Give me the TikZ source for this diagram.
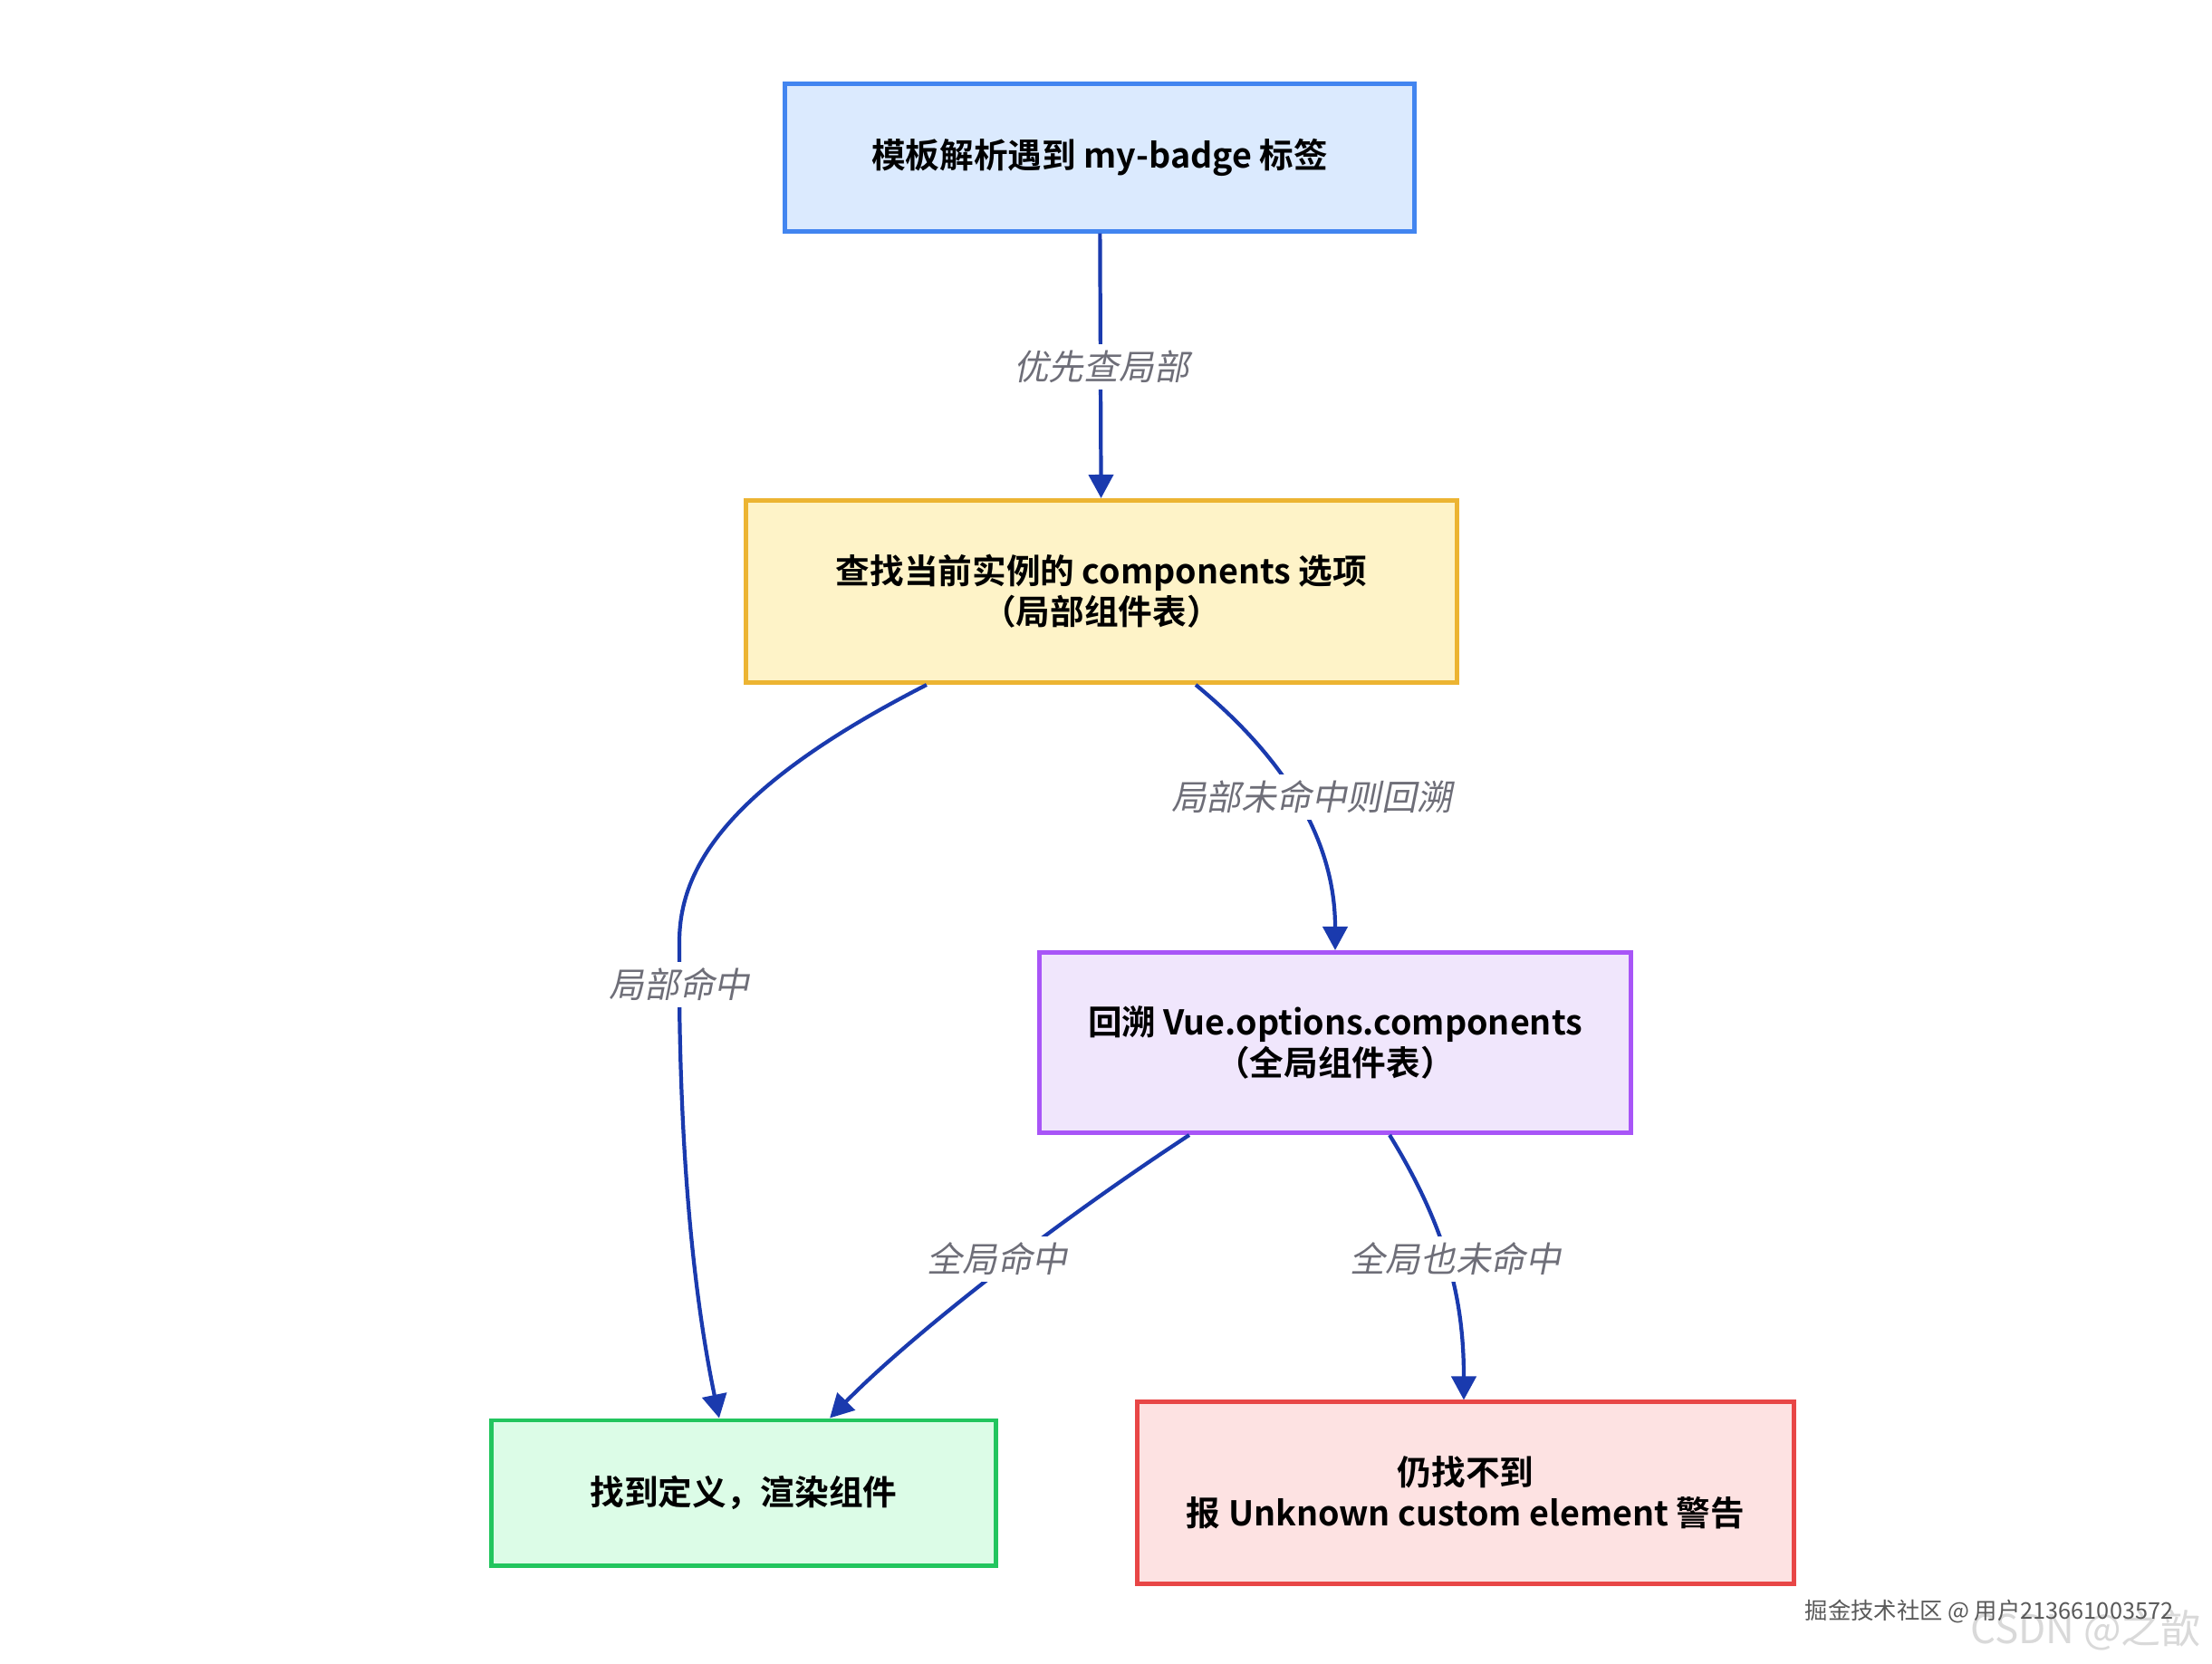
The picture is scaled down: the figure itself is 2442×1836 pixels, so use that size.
\documentclass[tikz,border=0pt]{standalone}
\usepackage{fontspec}
\setmainfont{Noto Sans CJK SC}[BoldFont={Noto Sans CJK SC Bold}]
\newfontfamily\slantfont{Noto Sans CJK SC}[FakeSlant=0.2]
\usetikzlibrary{arrows.meta}

\definecolor{edgeblue}{HTML}{1A3AAE}
\definecolor{labelgray}{HTML}{6E6E78}

\begin{document}
\begin{tikzpicture}[
    x=0.01cm, y=-0.01cm,
    box/.style={draw, line width=1.4pt, inner sep=0pt, align=center,
        font=\bfseries\fontsize{10.7pt}{12.8pt}\selectfont},
    flow/.style={-{Triangle[length=0.26cm, width=0.27cm]}, line width=1.2pt, edgeblue},
    lbl/.style={fill=white, inner sep=2pt, text=labelgray,
        font=\slantfont\fontsize{11pt}{13pt}\selectfont}
]

\useasboundingbox[fill=white] (0,0) rectangle (2442,1836);

\node[box, draw={rgb,255:red,66;green,133;blue,240}, fill={rgb,255:red,219;green,234;blue,254},
    minimum width=6.95cm, minimum height=1.62cm]
    (parse) at (1214,174) {模板解析遇到 my-badge 标签};
\node[box, draw={rgb,255:red,236;green,180;blue,50}, fill={rgb,255:red,254;green,243;blue,200},
    minimum width=7.84cm, minimum height=2.01cm]
    (local) at (1216,653) {查找当前实例的 components 选项\\（局部组件表）};
\node[box, draw={rgb,255:red,168;green,85;blue,247}, fill={rgb,255:red,240;green,230;blue,252},
    minimum width=6.53cm, minimum height=1.99cm]
    (global) at (1474,1151) {回溯 Vue.options.components\\（全局组件表）};
\node[box, draw={rgb,255:red,34;green,197;blue,94}, fill={rgb,255:red,220;green,252;blue,231},
    minimum width=5.56cm, minimum height=1.60cm]
    (found) at (821,1648) {找到定义，渲染组件};
\node[box, draw={rgb,255:red,232;green,70;blue,70}, fill={rgb,255:red,253;green,226;blue,226},
    minimum width=7.25cm, minimum height=2.00cm]
    (warn) at (1618,1648) {仍找不到\\报 Unknown custom element 警告};

% connectors
\draw[flow] (parse) -- (local);
\draw[flow] ([xshift=-1.93cm]local.south) .. controls (800,870) and (750,960) .. (750,1040)
    -- (750,1100) .. controls (752,1320) and (772,1460) .. ([xshift=-0.27cm]found.north);
\draw[flow] ([xshift=1.04cm]local.south) .. controls (1410,830) and (1474,920) .. (global.north);
\draw[flow] ([xshift=-1.61cm]global.south) .. controls (1150,1360) and (1000,1480) .. ([xshift=0.95cm]found.north);
\draw[flow] ([xshift=0.60cm]global.south) .. controls (1600,1360) and (1616,1440) .. ([xshift=-0.02cm]warn.north);

\node[lbl] (l1) at (1216,405) {优先查局部};
\node[lbl] (l2) at (1448,880) {局部未命中则回溯};
\node[lbl] (l3) at (750,1087) {局部命中};
\node[lbl] (l4) at (1101,1390) {全局命中};
\node[lbl] (l5) at (1607,1390) {全局也未命中};

% watermarks
\node[text=gray!30, font=\fontsize{12.5pt}{14pt}\selectfont, anchor=east] (wm2) at (2442,1800) {CSDN @之歆};
\node[text=black!65, font=\fontsize{7.2pt}{9pt}\selectfont] (wm1) at (2196,1779) {掘金技术社区 @ 用户213661003572};
\end{tikzpicture}
\end{document}
